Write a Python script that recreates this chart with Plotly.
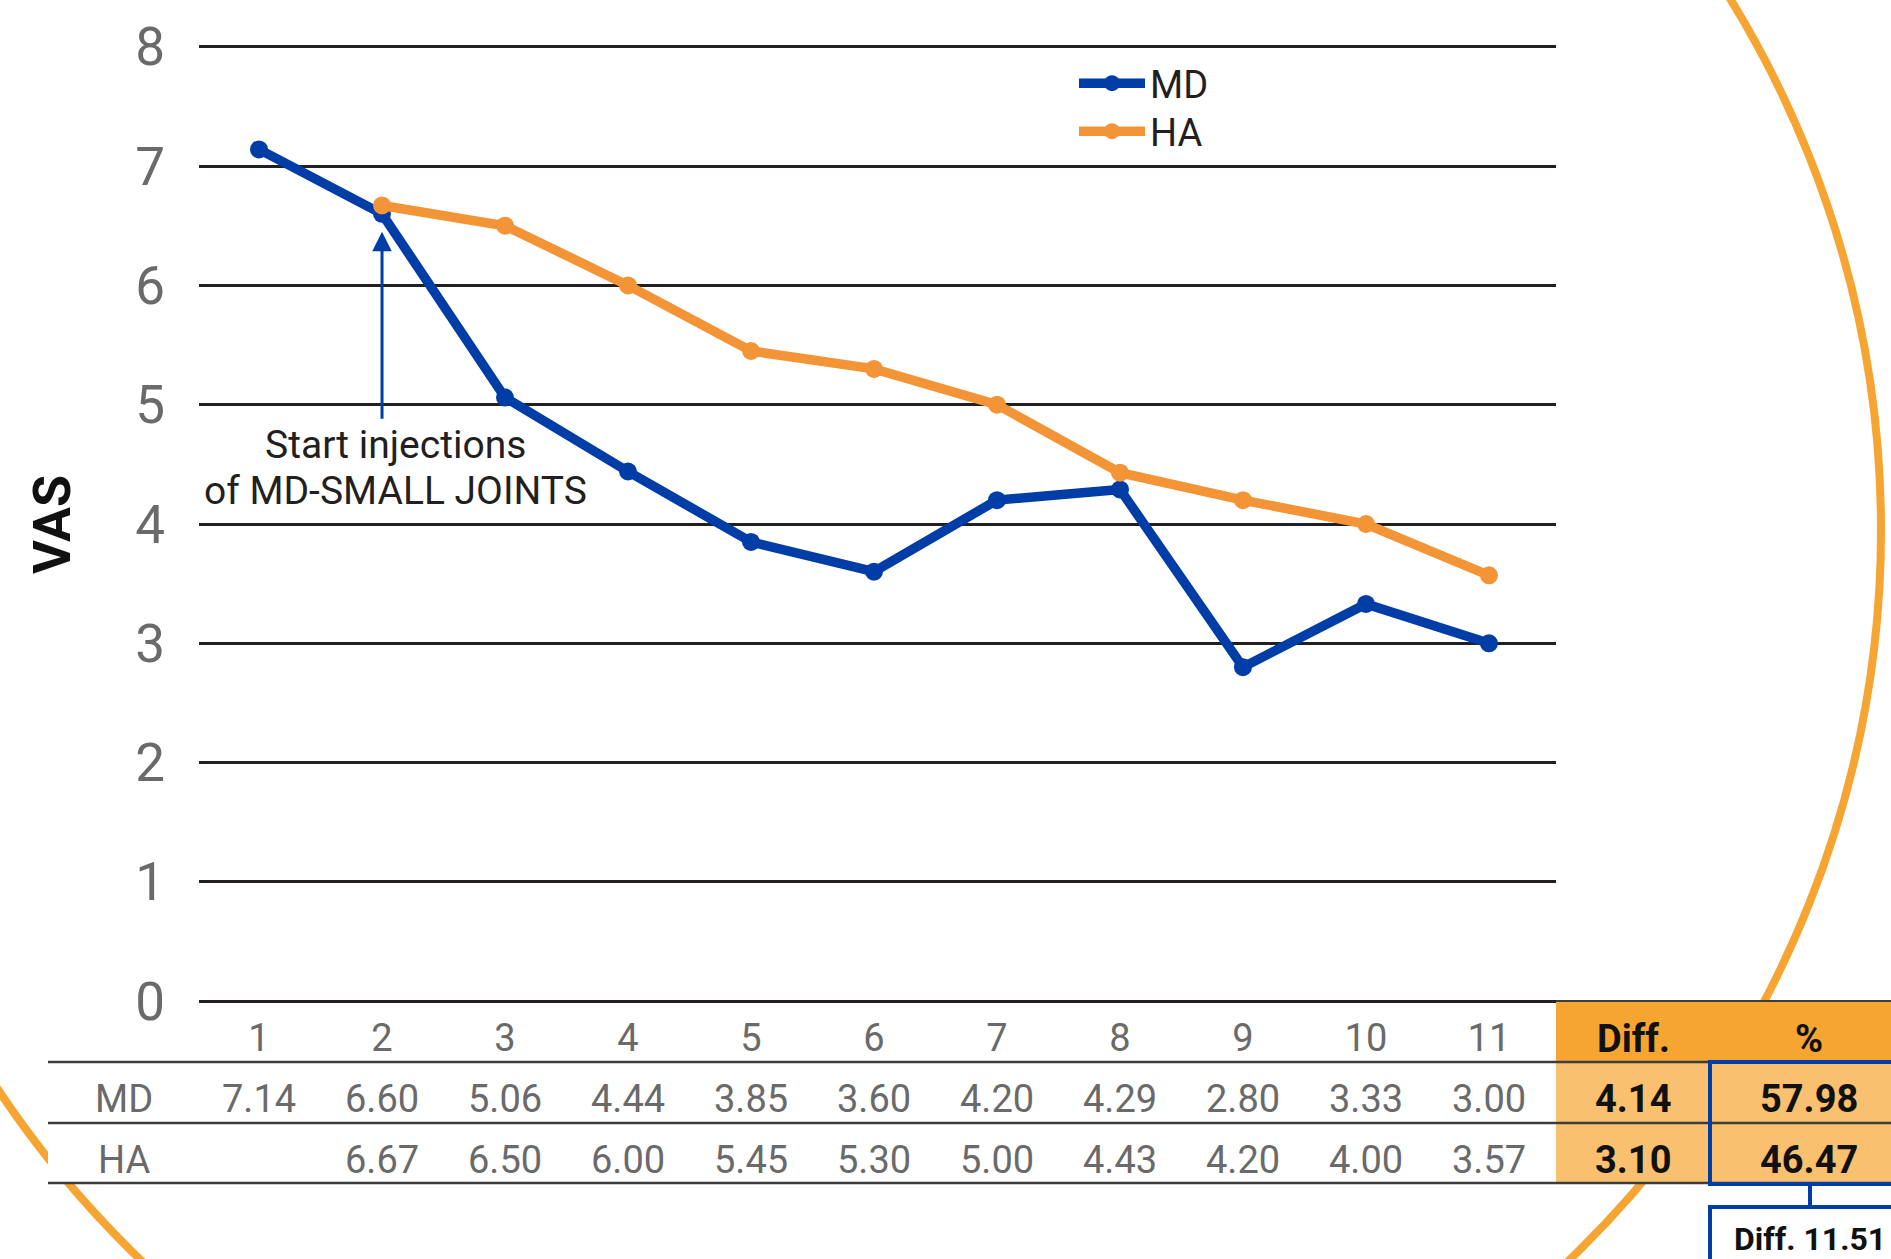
import plotly.graph_objects as go

# ---- data -------------------------------------------------------------
visits = list(range(1, 12))
md_vas = [7.14, 6.60, 5.06, 4.44, 3.85, 3.60, 4.20, 4.29, 2.80, 3.33, 3.00]
ha_vas = [None, 6.67, 6.50, 6.00, 5.45, 5.30, 5.00, 4.43, 4.20, 4.00, 3.57]
y_ticks = list(range(0, 9))

row_names = ["MD", "HA"]
summary_headers = ["Diff.", "%"]
diff_vals = ["4.14", "3.10"]
pct_vals = ["57.98", "46.47"]
pct_gap_label = "Diff. 11.51"

arrow_visit = 2
arrow_tail, arrow_tip = 4.87, 6.45
note_lines = ["Start injections", "of MD-SMALL JOINTS"]

# ---- styling ----------------------------------------------------------
BLUE = "#003da6"
ORANGE_LINE = "#f39436"
ORANGE = "#f6a533"
ORANGE_LIGHT = "#f8c06f"
GRID = "#231f20"
GRAY = "#6a6a6a"
INK = "#231f20"
FONT = "Roboto"

W, H = 1891, 1259
L, R, T, B = 199, 335, 42, 253
PW, PH = W - L - R, H - T - B


def px(x):
    """pixel column -> paper x"""
    return (x - L) / PW


def py(y):
    """pixel row -> paper y"""
    return (H - B - y) / PH


def y_of_px(y):
    """pixel row -> VAS value on the y axis (range -0.04..8.04)"""
    return -0.04 + 8.08 * py(y)


fig = go.Figure()

fig.add_trace(go.Scatter(
    x=visits, y=md_vas, name="MD", mode="lines+markers", legend="legend",
    line=dict(color=BLUE, width=9.5), marker=dict(color=BLUE, size=18),
))
fig.add_trace(go.Scatter(
    x=visits, y=ha_vas, name="HA", mode="lines+markers", connectgaps=False, legend="legend2",
    line=dict(color=ORANGE_LINE, width=9.5), marker=dict(color=ORANGE_LINE, size=18),
))

shapes = []
# decorative ring behind the table
shapes.append(dict(type="circle", xref="paper", yref="paper",
                   x0=px(-171), x1=px(1881), y0=py(1547), y1=py(-487),
                   line=dict(color=ORANGE, width=8), fillcolor="rgba(0,0,0,0)", layer="above"))
# table body
shapes.append(dict(type="rect", xref="paper", yref="paper",
                   x0=px(48), x1=px(1556), y0=py(1183), y1=py(1062),
                   fillcolor="white", line=dict(width=0), layer="above"))
shapes.append(dict(type="rect", xref="paper", yref="paper",
                   x0=px(1556), x1=px(1930), y0=py(1062), y1=py(1001),
                   fillcolor=ORANGE, line=dict(width=0), layer="above"))
shapes.append(dict(type="rect", xref="paper", yref="paper",
                   x0=px(1556), x1=px(1930), y0=py(1183), y1=py(1062),
                   fillcolor=ORANGE_LIGHT, line=dict(width=0), layer="above"))
# table rules
shapes.append(dict(type="line", xref="paper", yref="paper",
                   x0=px(1556), x1=px(1930), y0=py(1001), y1=py(1001),
                   line=dict(color="#3d3d3d", width=2), layer="above"))
for yy in (1062, 1123, 1183):
    shapes.append(dict(type="line", xref="paper", yref="paper",
                       x0=px(48), x1=px(1930), y0=py(yy), y1=py(yy),
                       line=dict(color="#3d3d3d", width=2.5), layer="above"))
# blue frame around the % values, connector and the difference box
shapes.append(dict(type="rect", xref="paper", yref="paper",
                   x0=px(1710), x1=px(1940), y0=py(1184), y1=py(1062),
                   line=dict(color=BLUE, width=4), fillcolor="rgba(0,0,0,0)", layer="above"))
shapes.append(dict(type="line", xref="paper", yref="paper",
                   x0=px(1810), x1=px(1810), y0=py(1184), y1=py(1207),
                   line=dict(color=BLUE, width=4), layer="above"))
shapes.append(dict(type="rect", xref="paper", yref="paper",
                   x0=px(1710), x1=px(1940), y0=py(1300), y1=py(1207),
                   line=dict(color=BLUE, width=4), fillcolor="white", layer="above"))

annotations = []
table_font = dict(family=FONT, size=38, color=GRAY)
bold_font = dict(family=FONT, size=38, color="#111111", weight="bold")
row_y = [py(1099), py(1160)]

for name, yy in zip(row_names, row_y):
    annotations.append(dict(text=name, x=px(124), y=yy, xref="paper", yref="paper",
                            showarrow=False, xanchor="center", yanchor="middle", font=table_font))
for series, yy in zip([md_vas, ha_vas], row_y):
    for v, val in zip(visits, series):
        if val is None:
            continue
        annotations.append(dict(text=f"{val:.2f}", x=v, y=yy, xref="x", yref="paper",
                                showarrow=False, xanchor="center", yanchor="middle", font=table_font))

col_x = [px(1633), px(1809)]
for head, cx in zip(summary_headers, col_x):
    annotations.append(dict(text=head, x=cx, y=py(1039), xref="paper", yref="paper",
                            showarrow=False, xanchor="center", yanchor="middle", font=bold_font))
for col, cx in zip([diff_vals, pct_vals], col_x):
    for val, yy in zip(col, row_y):
        annotations.append(dict(text=val, x=cx, y=yy, xref="paper", yref="paper",
                                showarrow=False, xanchor="center", yanchor="middle", font=bold_font))
annotations.append(dict(text=pct_gap_label, x=px(1810), y=py(1239), xref="paper", yref="paper",
                        showarrow=False, xanchor="center", yanchor="middle",
                        font=dict(family=FONT, size=32, color="#111111", weight="bold")))

# injection start marker
annotations.append(dict(text="", x=arrow_visit, y=arrow_tip, ax=arrow_visit, ay=arrow_tail,
                        xref="x", yref="y", axref="x", ayref="y", showarrow=True,
                        arrowhead=2, arrowsize=1.3, arrowwidth=3, arrowcolor=BLUE, standoff=0))
for line_text, line_px in zip(note_lines, [445, 491]):
    annotations.append(dict(text=line_text, x=2.11, y=y_of_px(line_px), xref="x", yref="y",
                            showarrow=False, xanchor="center", yanchor="middle",
                            font=dict(family=FONT, size=39, color=INK)))
# axis title
annotations.append(dict(text="<b>VAS</b>", x=px(52), y=py(525), xref="paper", yref="paper",
                        showarrow=False, textangle=-90, xanchor="center", yanchor="middle",
                        font=dict(family=FONT, size=52, color="#111111")))

legend_style = dict(xanchor="left", yanchor="top",
                    font=dict(family=FONT, size=38, color=INK), itemwidth=66,
                    bgcolor="rgba(0,0,0,0)")

fig.update_layout(
    width=W, height=H,
    margin=dict(l=L, r=R, t=T, b=B, autoexpand=False),
    paper_bgcolor="white", plot_bgcolor="white",
    shapes=shapes, annotations=annotations,
    showlegend=True,
    legend=dict(x=px(1074), y=py(52), **legend_style),
    legend2=dict(x=px(1074), y=py(100), **legend_style),
    xaxis=dict(range=[0.512, 11.545], tickvals=visits, ticktext=[str(v) for v in visits],
               showgrid=False, zeroline=False, showline=False, ticks="",
               tickfont=dict(family=FONT, size=38, color=GRAY), ticklabelstandoff=6,
               automargin=False),
    yaxis=dict(range=[-0.04, 8.04], tickvals=y_ticks, showgrid=True, gridcolor=GRID, gridwidth=2.5,
               zeroline=True, zerolinecolor=GRID, zerolinewidth=2.5, showline=False, ticks="",
               tickfont=dict(family=FONT, size=53, color=GRAY), ticklabelstandoff=33,
               automargin=False),
)

fig.write_html("out.html")
